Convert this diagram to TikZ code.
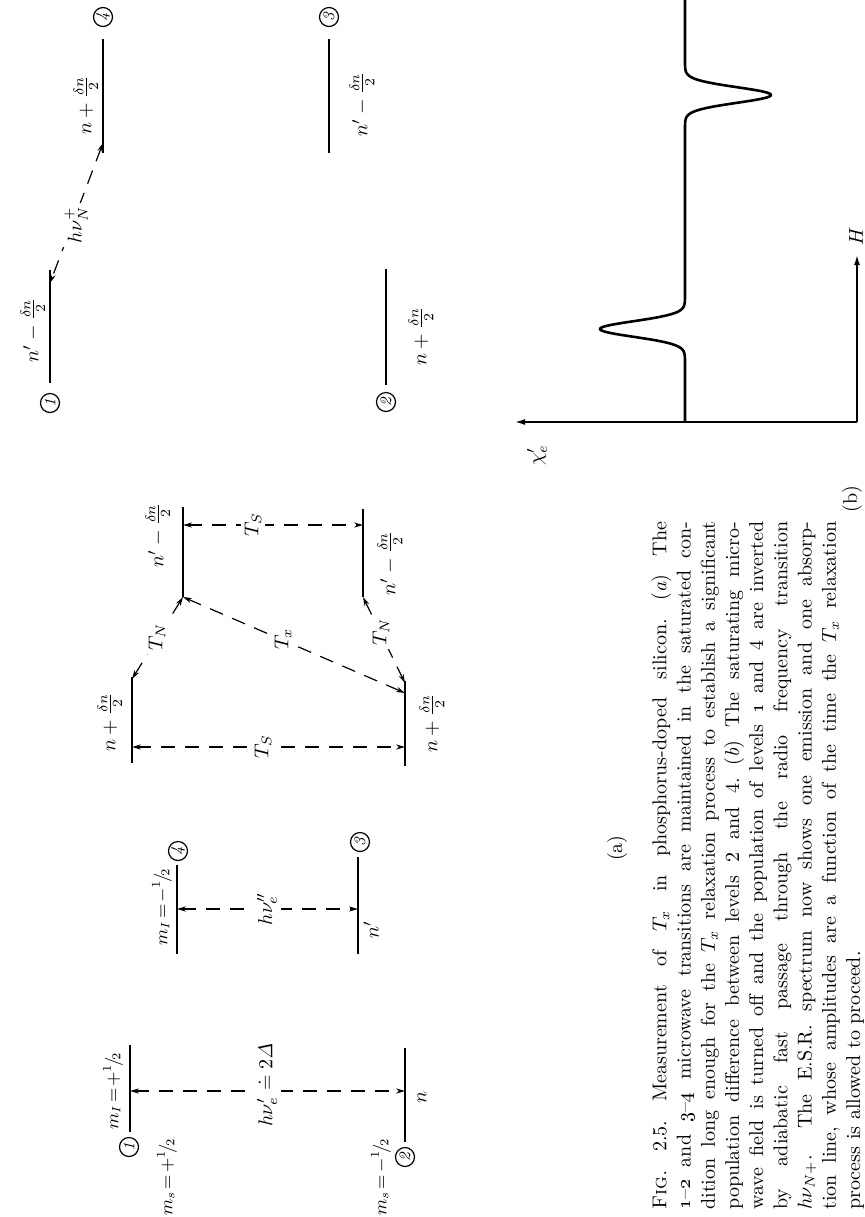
\documentclass[tikz,border=0pt]{standalone}
\usetikzlibrary{arrows.meta}
\begin{document}
\begin{tikzpicture}[x=0.5pt,y=-0.5pt,
  lvl/.style={line width=1.4pt},
  trans/.style={line width=0.6pt, dash pattern=on 7pt off 5pt,
    {Stealth[length=4.5pt,width=2.6pt]}-{Stealth[length=4.5pt,width=2.6pt]}},
  lab/.style={rotate=90, inner sep=1pt, font=\normalsize},
  cut/.style={lab, fill=white, inner sep=2pt},
  circ/.style={circle, draw, line width=0.6pt, minimum size=9.5pt, inner sep=0pt,
    rotate=90, font=\footnotesize\itshape},
  ax/.style={line width=0.8pt},
  axtip/.style={-{Latex[length=5pt,width=3pt]}}]
\useasboundingbox (0,0) rectangle (864,1217);

% ---------------- panel (b): level scheme ----------------
\coordinate (b4t) at (103,39);  \coordinate (b4b) at (103,153);
\coordinate (b1t) at (50,270);  \coordinate (b1b) at (50,383);
\coordinate (b3t) at (329,39);  \coordinate (b3b) at (329,153);
\coordinate (b2t) at (386,269); \coordinate (b2b) at (386,385);
\draw[lvl] (b4t) -- (b4b);
\draw[lvl] (b1t) -- (b1b);
\draw[lvl] (b3t) -- (b3b);
\draw[lvl] (b2t) -- (b2b);
\node[circ] (cb4) at (103,17) {4};
\node[circ] (cb1) at (50,403) {1};
\node[circ] (cb3) at (329,17) {3};
\node[circ] (cb2) at (386,402) {2};
\node[lab] (lb4) at (86,105) {$n+\frac{\delta n}{2}$};
\node[lab] (lb1) at (33,330) {$n'-\frac{\delta n}{2}$};
\node[lab] (lb3) at (362,104) {$n'-\frac{\delta n}{2}$};
\node[lab] (lb2) at (421,336) {$n+\frac{\delta n}{2}$};
\coordinate (b4x) at (103,143); \coordinate (b1x) at (50,283);
\draw[trans] (b4x) -- (b1x);
\node[cut] (hnuN) at (76,225) {$h\nu_N^+$};

% ---------------- panel (a): T diagram ----------------
\coordinate (At) at (183,507); \coordinate (Ab) at (183,597);
\coordinate (Bt) at (132,677); \coordinate (Bb) at (132,763);
\coordinate (Ct) at (363,509); \coordinate (Cb) at (363,597);
\coordinate (Dt) at (405,681); \coordinate (Db) at (405,766);
\draw[lvl] (At) -- (Ab);
\draw[lvl] (Bt) -- (Bb);
\draw[lvl] (Ct) -- (Cb);
\draw[lvl] (Dt) -- (Db);
\node[lab] (lA) at (158,535) {$n'-\frac{\delta n}{2}$};
\node[lab] (lB) at (110,722) {$n+\frac{\delta n}{2}$};
\node[lab] (lC) at (390,563) {$n'-\frac{\delta n}{2}$};
\node[lab] (lD) at (432,723) {$n+\frac{\delta n}{2}$};
\coordinate (As) at (183,525); \coordinate (Cs) at (363,525);
\coordinate (Bs) at (132,747); \coordinate (Ds) at (405,747);
\coordinate (Bn) at (132,679); \coordinate (Dx) at (405,693);
\coordinate (Dn) at (405,683);
\draw[trans] (As) -- (Cs);
\draw[trans] (Bs) -- (Ds);
\draw[trans] (Ab) -- (Bn);
\draw[trans] (Ab) -- (Dx);
\draw[trans] (Cb) -- (Dn);
\node[cut] (TS1) at (253,525) {$T_S$};
\node[cut] (TS2) at (263,747) {$T_S$};
\node[cut] (TN1) at (157,637) {$T_N$};
\node[cut] (Tx)  at (283,639) {$T_x$};
\node[cut] (TN2) at (381,632) {$T_N$};

% ---------------- panel (a): four levels ----------------
\coordinate (L1t) at (130,1045); \coordinate (L1b) at (130,1132);
\coordinate (L4t) at (177,865);  \coordinate (L4b) at (177,954);
\coordinate (L3t) at (358,857);  \coordinate (L3b) at (358,954);
\coordinate (L2t) at (405,1048); \coordinate (L2b) at (405,1142);
\draw[lvl] (L1t) -- (L1b);
\draw[lvl] (L4t) -- (L4b);
\draw[lvl] (L3t) -- (L3b);
\draw[lvl] (L2t) -- (L2b);
\node[circ] (c1) at (129,1147) {1};
\node[circ] (c4) at (178,851) {4};
\node[circ] (c3) at (360,842) {3};
\node[circ] (c2) at (405,1157) {2};
\node[lab,font=\small] (mI1) at (113,1091) {$m_I\!=\!+{}^1\!/\!_2$};
\node[lab,font=\small] (mI4) at (162,907) {$m_I\!=\!-{}^1\!/\!_2$};
\node[lab,font=\small] (ms1) at (167,1177) {$m_s\!=\!+{}^1\!/\!_2$};
\node[lab,font=\small] (ms2) at (381,1177) {$m_s\!=\!-{}^1\!/\!_2$};
\node[lab] (ln) at (422,1097) {$n$};
\node[lab] (lnp) at (371,930) {$n'$};
\coordinate (L1a) at (130,1091); \coordinate (L2a) at (405,1091);
\coordinate (L4a) at (177,909);  \coordinate (L3a) at (358,909);
\draw[trans] (L1a) -- (L2a);
\draw[trans] (L4a) -- (L3a);
\node[cut] (hnu1) at (267,1085) {$h\nu'_e \doteq 2\mathit{\Delta}$};
\node[cut] (hnu2) at (267,909) {$h\nu''_e$};

\node[lab] (alab) at (617,848) {(a)};

% ---------------- panel (b): spectrum ----------------
\coordinate (O) at (857,422);
\coordinate (chiT) at (515,422);
\coordinate (HT) at (857,255);
\draw[ax,axtip] (O) -- (chiT);
\draw[ax,axtip] (O) -- (HT);
\node[lab] (Hl) at (856,236) {$H$};
\node[lab] (chil) at (537,455) {$\chi'_e$};
\draw[line width=1.3pt, line join=round]
  (685,422) -- (685,372)
  -- plot[domain=372:286,samples=90,variable=\t] ({685-85*exp(-((\t-329)/11)^2)},\t)
  -- (685,138)
  -- plot[domain=138:52,samples=90,variable=\t] ({685+86*exp(-((\t-95)/11)^2)},\t)
  -- (685,0);
\node[lab] (blab) at (852,499) {(b)};

% ---------------- caption ----------------
\node[rotate=90, anchor=north west, inner sep=0pt, text width=344pt, align=justify,
      font=\fontsize{10}{12.1}\selectfont] (cap) at (651,1210) {%
\frenchspacing\noindent\textsc{Fig.}~2.5. Measurement of $T_x$ in phosphorus-doped silicon. (\textit{a}) The\linebreak
\oldstylenums{1}\textendash\oldstylenums{2} and \oldstylenums{3}\textendash\oldstylenums{4} microwave transitions are maintained in the saturated con-\linebreak
dition long enough for the $T_x$ relaxation process to establish a significant\linebreak
population difference between levels 2 and 4. (\textit{b}) The saturating micro-\linebreak
wave field is turned off and the population of levels \oldstylenums{1} and 4 are inverted\linebreak
by adiabatic fast passage through the radio frequency transition\linebreak
$h\nu_{N+}$.\ \ The E.S.R. spectrum now shows one emission and one absorp-\linebreak
tion line, whose amplitudes are a function of the time the $T_x$ relaxation\linebreak
process is allowed to proceed.};
\end{tikzpicture}
\end{document}
